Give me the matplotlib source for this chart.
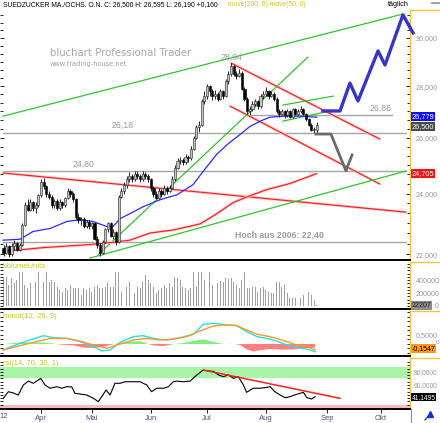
import numpy as np
import matplotlib
matplotlib.use("Agg")
import matplotlib.pyplot as plt
from matplotlib.ticker import FixedLocator, NullFormatter
from matplotlib.lines import Line2D

plt.rcParams['font.family'] = ['Liberation Sans', 'DejaVu Sans']

# bar index 0 = first trading day of April 2012
bar_idx = np.arange(-14, 104)
opens = [22.20, 22.05, 22.25, 22.00, 22.25, 22.35, 22.15, 22.30, 22.95, 23.60, 23.45, 23.70, 23.50, 23.60,
         23.95, 24.40, 24.25, 24.00, 23.90, 23.60, 23.75, 23.50, 23.70, 23.60, 23.85, 24.10, 24.00, 23.80, 23.20, 23.10, 23.15, 22.90, 23.05, 22.90,
         23.00, 22.50, 22.30, 22.05, 22.40, 22.80, 23.00, 22.60, 22.70, 22.40, 23.90, 24.10, 24.30, 24.50, 24.60, 24.50, 24.70, 24.60, 24.50, 24.70, 24.60,
         24.50, 24.20, 24.00, 23.85, 24.10, 24.00, 24.20, 24.10, 24.20, 24.50, 24.90, 25.15, 25.20, 25.10, 25.30, 25.25, 25.60, 26.00, 26.40, 26.50, 27.40,
         27.60, 28.00, 27.80, 27.60, 27.70, 27.50, 27.80, 27.60, 28.20, 28.50, 28.80, 28.50, 28.40, 28.55, 27.90, 27.50, 27.00, 27.10, 27.30, 27.40, 27.20, 27.60,
         27.70, 27.80, 27.60, 27.70, 27.50, 27.00, 26.90, 27.00, 26.85, 27.00, 26.80, 27.10, 26.90, 27.00, 27.10, 26.90, 26.70, 26.50, 26.30, 26.30]
highs = [22.30, 22.35, 22.30, 22.35, 22.45, 22.40, 22.35, 23.00, 23.70, 23.80, 23.80, 23.75, 23.70, 24.00,
         24.50, 24.55, 24.30, 24.10, 23.95, 23.80, 23.80, 23.80, 23.75, 23.90, 24.20, 24.15, 24.05, 23.85, 23.35, 23.20, 23.20, 23.10, 23.10, 23.05,
         23.00, 22.60, 22.35, 22.45, 22.85, 23.05, 23.05, 22.80, 22.75, 23.95, 24.20, 24.40, 24.60, 24.75, 24.70, 24.80, 24.80, 24.70, 24.80, 24.75, 24.70,
         24.55, 24.25, 24.10, 24.20, 24.15, 24.30, 24.25, 24.30, 24.60, 25.00, 25.25, 25.30, 25.25, 25.40, 25.35, 25.70, 26.05, 26.50, 26.65, 27.50, 27.80,
         28.10, 28.05, 27.90, 27.85, 27.75, 27.90, 27.85, 28.30, 28.60, 28.94, 28.85, 28.60, 28.70, 28.60, 27.95, 27.55, 27.20, 27.40, 27.50, 27.45, 27.70, 27.80,
         27.95, 27.85, 27.80, 27.75, 27.55, 27.10, 27.10, 27.05, 27.10, 27.05, 27.15, 27.15, 27.10, 27.20, 27.15, 26.95, 26.75, 26.55, 26.40, 26.595]
lows = [21.95, 22.00, 21.90, 21.95, 22.15, 22.10, 22.10, 22.25, 22.90, 23.40, 23.40, 23.40, 23.35, 23.55,
        23.90, 24.15, 23.90, 23.80, 23.50, 23.50, 23.45, 23.45, 23.50, 23.55, 23.80, 23.90, 23.70, 23.15, 23.00, 22.95, 22.85, 22.85, 22.80, 22.80,
        22.45, 22.20, 21.95, 22.00, 22.35, 22.70, 22.55, 22.50, 22.30, 22.35, 23.85, 24.00, 24.20, 24.40, 24.40, 24.45, 24.50, 24.40, 24.45, 24.50, 24.40,
        24.10, 23.90, 23.80, 23.80, 23.90, 23.95, 24.00, 24.05, 24.15, 24.45, 24.85, 25.05, 25.00, 25.05, 25.10, 25.20, 25.55, 25.95, 26.20, 26.45, 27.30,
        27.50, 27.60, 27.45, 27.50, 27.40, 27.45, 27.50, 27.55, 28.10, 28.40, 28.40, 28.30, 28.35, 27.85, 27.40, 26.90, 26.88, 27.00, 27.20, 27.10, 27.15, 27.50,
        27.60, 27.50, 27.55, 27.40, 26.95, 26.80, 26.85, 26.75, 26.80, 26.75, 26.75, 26.85, 26.85, 26.95, 26.85, 26.65, 26.45, 26.25, 26.19, 26.19]
closes = [22.05, 22.25, 22.00, 22.25, 22.35, 22.15, 22.30, 22.95, 23.60, 23.45, 23.70, 23.50, 23.60, 23.95,
          24.40, 24.25, 24.00, 23.90, 23.60, 23.75, 23.50, 23.70, 23.60, 23.85, 24.10, 24.00, 23.80, 23.20, 23.10, 23.15, 22.90, 23.05, 22.90, 23.00,
          22.50, 22.30, 22.05, 22.40, 22.80, 23.00, 22.60, 22.70, 22.40, 23.90, 24.10, 24.30, 24.50, 24.60, 24.50, 24.70, 24.60, 24.50, 24.70, 24.60, 24.50,
          24.20, 24.00, 23.85, 24.10, 24.00, 24.20, 24.10, 24.20, 24.50, 24.90, 25.15, 25.20, 25.10, 25.30, 25.25, 25.60, 26.00, 26.40, 26.50, 27.40, 27.60,
          28.00, 27.80, 27.60, 27.70, 27.50, 27.80, 27.60, 28.20, 28.50, 28.80, 28.50, 28.40, 28.55, 27.90, 27.50, 27.00, 27.10, 27.30, 27.40, 27.20, 27.60, 27.70,
          27.80, 27.60, 27.70, 27.50, 27.00, 26.90, 27.00, 26.85, 27.00, 26.80, 27.10, 26.90, 27.00, 27.10, 26.90, 26.70, 26.50, 26.30, 26.34, 26.50]
volume_k = [426, 451, 323, 426, 349, 400, 528, 528, 323, 272, 349, 451, 374, 528,
            503, 374, 528, 374, 400, 374, 297, 246, 221, 272, 246, 323, 272, 272, 272, 169, 272, 246, 272, 221,
            297, 323, 272, 272, 297, 349, 297, 297, 528, 528, 221, 272, 297, 374, 272, 195, 297, 272, 374, 477, 400,
            349, 297, 195, 246, 272, 323, 272, 349, 297, 451, 426, 400, 297, 272, 246, 272, 528, 297, 528, 528, 400,
            426, 528, 323, 349, 349, 385, 374, 426, 415, 436, 374, 323, 272, 400, 528, 272, 282, 297, 297, 221, 272, 297,
            246, 221, 195, 195, 374, 374, 297, 323, 195, 118, 118, 118, 169, 118, 169, 179, 221, 169, 92, 22]

# moving averages
ma50_x = [-14.2, -7.8, -3.0, 3.4, 9.7, 14.6, 19.4, 24.7, 26.9, 29.5, 33.2, 38.1, 44.5, 50.8, 56.8, 60.5, 65.7, 69.9, 74.3, 78.1, 82.6, 85.5, 91.1, 96.7, 103]
ma50_y = [22.45, 22.48, 22.73, 22.83, 23.06, 23.12, 23.06, 22.89, 22.89, 23.15, 23.32, 23.55, 23.79, 23.96, 24.31, 24.77, 25.40, 25.78, 26.12, 26.43, 26.66, 26.78, 26.82, 26.82, 26.78]
ma200_x = [-14.2, 0.7, 18.3, 26.9, 33.2, 40.7, 49.3, 54.5, 59.4, 65.0, 71.7, 78.1, 84.4, 93.0, 103]
ma200_y = [22.09, 22.21, 22.31, 22.38, 22.45, 22.68, 22.78, 22.88, 22.98, 23.28, 23.69, 23.93, 24.14, 24.35, 24.70]

# drawn trend lines (start/end)
green_lines = [((-14.2, 135.2), (26.82, 31.05)),
               ((18.3, 136.3), (21.88, 24.79)),
               ((21.3, 99.7), (21.98, 29.19)),
               ((90.4, 109.1), (27.25, 27.60)),
               ((90.4, 106.1), (26.63, 26.98))]
red_lines = [((-14.2, 136.3), (24.72, 23.37)),
             ((71.0, 126.6), (28.94, 25.95)),
             ((70.6, 126.6), (27.21, 24.33))]
levels = [26.18, 24.80, 22.40]
level_26_86 = ((77.0, 131.1), 26.86)

fc_blue_x = [105.3, 111.7, 115.4, 118.4, 125.9, 128.5, 135.2, 139.0]
fc_blue_y = [27.02, 27.02, 28.12, 27.41, 29.45, 28.86, 31.01, 30.22]
fc_gray_x = [102.7, 108.3, 113.9, 116.2]
fc_gray_y = [26.14, 26.14, 24.80, 25.37]

# MACD
macd_x = [-14.1, -7.8, -2.9, 0.9, 4.6, 9.6, 14.6, 19.6, 22.7, 25.8, 29.5, 34.5, 38.2, 42.0, 46.9, 51.9, 56.9, 60.6, 64.4, 69.4, 73.1, 76.8, 80.6, 84.3, 88.0, 91.8, 95.5, 99.3, 102.4]
macd_y = [-0.33, 0.04, 0.28, 0.46, 0.35, 0.31, 0.13, -0.15, -0.39, -0.33, 0.09, 0.41, 0.46, 0.31, 0.22, 0.35, 0.53, 1.09, 1.15, 1.06, 1.02, 0.69, 0.41, 0.31, 0.16, -0.06, -0.20, -0.28, -0.43]
sig_x = [-14.1, -7.8, -2.9, 3.4, 9.6, 14.6, 19.6, 24.5, 28.3, 34.5, 39.5, 44.4, 49.4, 54.4, 59.4, 64.4, 69.4, 73.1, 76.8, 80.6, 84.3, 88.0, 91.8, 95.5, 99.3, 102.4]
sig_y = [-0.33, -0.09, 0.09, 0.31, 0.31, 0.16, -0.06, -0.24, -0.06, 0.22, 0.31, 0.22, 0.26, 0.41, 0.72, 1.00, 1.06, 1.02, 0.78, 0.54, 0.44, 0.31, 0.13, -0.06, -0.15, -0.33]
hist_x = [-13.4, -11.6, -7.8, -2.9, 0.9, 4.6, 5.9, 7.1, 12.1, 15.8, 19.6, 23.3, 26.4, 27.6, 29.5, 33.2, 37.0, 39.5, 40.1, 42.0, 45.7, 48.8, 50.1,
          53.2, 58.2, 60.6, 64.4, 67.5, 68.7, 70.6, 72.5, 74.3, 76.8, 79.3, 81.8, 85.6, 90.5, 94.3, 98.0, 102.4]
hist_y = [0.0, 0.03, 0.08, 0.09, 0.08, 0.02, 0.0, -0.03, -0.08, -0.20, -0.22, -0.15, -0.03, 0.0, 0.05, 0.14, 0.15, 0.03, 0.0, -0.08, -0.12, -0.02, 0.0,
          0.06, 0.20, 0.25, 0.12, 0.02, 0.0, 0.01, 0.0, -0.05, -0.30, -0.42, -0.35, -0.28, -0.32, -0.30, -0.25, -0.20]

# RSI
rsi_x = [-14.1, -12.2, -10.3, -8.5, -6.6, -4.7, -2.9, -1.6, -0.1, 1.5, 3.4, 5.9, 7.7, 9.6, 11.5, 12.7, 15.2, 17.1, 19.6, 21.4, 22.7, 24.3, 25.8, 27.6,
         29.5, 31.4, 34.5, 37.0, 39.5, 41.3, 43.2, 45.7, 47.6, 49.4, 50.7, 53.2, 55.7, 58.2, 60.6, 62.5, 64.4, 66.3, 68.1, 70.0, 71.9, 73.7, 75.6,
         76.8, 79.3, 81.8, 83.7, 85.6, 87.4, 89.3, 91.2, 93.0, 95.5, 98.0, 99.3, 101.1, 102.4]
rsi_y = [39.5, 49.7, 47.7, 44.6, 60.0, 66.0, 62.6, 66.0, 70.2, 60.0, 54.9, 57.4, 55.0, 57.4, 57.0, 47.2, 45.7, 44.6, 39.5, 34.4, 42.0, 52.3, 44.6, 62.6,
         62.6, 65.0, 65.0, 65.0, 60.0, 49.7, 55.0, 55.0, 57.4, 65.0, 66.0, 65.0, 66.0, 75.4, 83.0, 81.5, 81.0, 75.4, 72.8, 75.4, 70.2, 72.8, 60.0,
         48.7, 55.0, 55.0, 56.0, 57.4, 49.7, 44.6, 40.5, 42.0, 45.7, 48.7, 40.5, 38.5, 42.0]
rsi_trend = ((60.6, 111.7), (83.0, 39.5))

month_pos = [0, 19, 41, 62, 84, 107, 127]
month_lbl = ['Apr', 'Mai', 'Jun', 'Jul', 'Aug', 'Sep', 'Okt']

W, H = 440, 423
fig = plt.figure(figsize=(W / 100, H / 100), dpi=100)
XL = (-15.32, 137.84)
yellow = '#f2c440'
gray_txt = '#9a9a9a'


def panel(top, bottom):
    a = fig.add_axes([0, 1 - bottom / H, 410 / W, (bottom - top) / H])
    a.set_xlim(*XL)
    for s in ('top', 'left'):
        a.spines[s].set_visible(False)
    a.spines['bottom'].set_color('black')
    a.spines['bottom'].set_linewidth(1.4)
    a.spines['right'].set_color(yellow)
    a.spines['right'].set_linewidth(1.0)
    a.yaxis.tick_right()
    a.tick_params(axis='y', which='both', left=True, right=True, direction='in', colors='black',
                  labelcolor=gray_txt, labelsize=5.2, pad=4, length=2, width=0.6)
    a.set_xticks([])
    fig.add_artist(Line2D([411 / W, 1], [1 - top / H] * 2, color=yellow, lw=1.0))
    return a


def redline(a, xs, ys, **kw):
    a.plot(xs, ys, color='#ffc4c4', lw=1.9, solid_capstyle='butt', **kw)
    a.plot(xs, ys, color='#ff1a1a', lw=0.8, **kw)


# ---------------- main price panel
ax = panel(10, 260)
ax.set_yscale('log')
ax.set_ylim(21.82, 31.23)
ax.yaxis.set_major_locator(FixedLocator([22, 24, 26, 28, 30]))
ax.yaxis.set_minor_locator(FixedLocator(np.arange(21.0, 32.0, 1 / 3)))
ax.yaxis.set_minor_formatter(NullFormatter())
ax.set_yticklabels(['22,000', '24,000', '26,000', '28,000', '30,000'])
ax.tick_params(axis='y', which='major', length=3)

ax.text(0.122, 0.828, 'bluchart Professional Trader', transform=ax.transAxes, color='#a8a8a8',
        fontsize=7.3, family='DejaVu Sans', va='center')
ax.text(0.122, 0.784, 'www.trading-house.net', transform=ax.transAxes, color='#a0a0a0',
        fontsize=4.8, family='DejaVu Sans', va='center')

for lv in levels:
    ax.plot(XL[0] + np.array([1.2, 151.6]), [lv, lv], color='#a6a6a6', lw=1.0)
ax.plot(level_26_86[0], [level_26_86[1]] * 2, color='#a6a6a6', lw=1.0)
ax.text(127, 27.13, '26,86', color=gray_txt, fontsize=6.3, ha='center', va='center')
ax.text(30.6, 26.48, '26,18', color=gray_txt, fontsize=6.3, ha='center', va='center')
ax.text(16.0, 25.04, '24,80', color=gray_txt, fontsize=6.3, ha='center', va='center')
ax.text(71.0, 29.19, '28,94', color=gray_txt, fontsize=6.3, ha='center', va='center')
ax.text(89.0, 22.61, 'Hoch aus 2006: 22,40', color=gray_txt, fontsize=6.3, fontweight='bold',
        ha='center', va='center')

for xs, ys in red_lines:
    redline(ax, xs, ys)
for xs, ys in green_lines:
    ax.plot(xs, ys, color='#2ec52e', lw=0.9)

redline(ax, ma200_x, ma200_y)
ax.plot(ma50_x, ma50_y, color='#2a2aff', lw=0.9)

o = np.array(opens); c = np.array(closes)
up = c >= o
ax.vlines(bar_idx, lows, highs, color='black', lw=0.6, zorder=3)
body_lo = np.minimum(o, c)
body_h = np.maximum(np.abs(c - o), 0.02)
ax.bar(bar_idx[up], body_h[up], bottom=body_lo[up], width=0.8, color='#c4c4c4',
       edgecolor='#202020', lw=0.4, zorder=4)
ax.bar(bar_idx[~up], body_h[~up], bottom=body_lo[~up], width=0.8, color='black',
       edgecolor='black', lw=0.4, zorder=4)

ax.plot(fc_blue_x, fc_blue_y, color='#3535c8', lw=2.4, clip_on=False, zorder=5)
ax.plot(fc_gray_x, fc_gray_y, color='#6a6a6a', lw=2.0, zorder=5)

ytr = ax.get_yaxis_transform()
ax.text(1.004, 26.81, '26,779', transform=ytr, color='white', fontsize=5.3, va='center',
        bbox=dict(boxstyle='square,pad=0.12', fc='#1010ff', ec='none'), zorder=6)
ax.text(1.004, 26.43, '26,500', transform=ytr, color='white', fontsize=5.3, va='center',
        bbox=dict(boxstyle='square,pad=0.12', fc='#4a4a4a', ec='none'), zorder=6)
ax.text(1.004, 24.71, '24,705', transform=ytr, color='white', fontsize=5.3, va='center',
        bbox=dict(boxstyle='square,pad=0.12', fc='#ff1010', ec='none'), zorder=6)

# ---------------- volume
axv = panel(262, 309)
axv.set_ylim(-46, 677)
axv.bar(bar_idx, volume_k, width=0.35, color='#a0a0a0', lw=0)
axv.yaxis.set_major_locator(FixedLocator([200, 400]))
axv.yaxis.set_minor_locator(FixedLocator(np.arange(0, 700, 50)))
axv.yaxis.set_minor_formatter(NullFormatter())
axv.set_yticklabels(['200000', '400000'])
axv.text(0.008, 0.9, 'VolumeUnits', transform=axv.transAxes, color='#c8c820', fontsize=5.5, va='center')
axv.text(1.004, 6, '22207', transform=axv.get_yaxis_transform(), color='#202020', fontsize=5.0,
         va='center', bbox=dict(boxstyle='square,pad=0.1', fc='#8c8c8c', ec='none'))
fig.text(435 / W, 1 - 306 / H, '0', color=gray_txt, fontsize=5.0, va='center')

# ---------------- macd
axm = panel(311, 356)
axm.set_ylim(-0.667, 1.83)
axm.fill_between(hist_x, hist_y, 0, where=np.array(hist_y) >= 0, color='#7cf07c', lw=0, interpolate=True)
axm.fill_between(hist_x, hist_y, 0, where=np.array(hist_y) <= 0, color='#ff8080', lw=0, interpolate=True)
axm.plot(macd_x, macd_y, color='#20e0f0', lw=1.0)
axm.plot(sig_x, sig_y, color='#ff9a20', lw=1.0)
axm.yaxis.set_major_locator(FixedLocator([0.5]))
axm.yaxis.set_minor_locator(FixedLocator(np.arange(-0.5, 1.8, 0.25)))
axm.yaxis.set_minor_formatter(NullFormatter())
axm.set_yticklabels(['0,5000'])
axm.text(0.008, 0.87, 'macd(12, 26, 9)', transform=axm.transAxes, color='#c8c820', fontsize=5.5, va='center')
axm.text(1.004, -0.25, '-0,1547', transform=axm.get_yaxis_transform(), color='black', fontsize=5.0,
         va='center', bbox=dict(boxstyle='square,pad=0.1', fc='#ff9a10', ec='none'))
fig.text(436 / W, 1 - 342 / H, '0', color=gray_txt, fontsize=4.6, va='center')

# ---------------- rsi
axr = panel(358, 409)
axr.set_ylim(23.1, 101.5)
axr.axhspan(70, 87.5, color='#a8f5a8', lw=0)
axr.axhspan(23.1, 30, color='#ffb8b8', lw=0)
axr.plot(rsi_x, rsi_y, color='black', lw=0.8)
axr.plot(rsi_trend[0], rsi_trend[1], color='#ff2020', lw=1.1)
axr.yaxis.set_major_locator(FixedLocator([60, 80]))
axr.yaxis.set_minor_locator(FixedLocator(np.arange(25, 100, 5)))
axr.yaxis.set_minor_formatter(NullFormatter())
axr.set_yticklabels(['60,0000', '80,0000'])
axr.tick_params(axis='y', which='major', labelsize=4.8, pad=2.5)
axr.text(0.008, 0.9, 'rsi(14, 70, 30, 1)', transform=axr.transAxes, color='#c8c820', fontsize=5.5, va='center')
axr.text(1.004, 41.15, '41,1495', transform=axr.get_yaxis_transform(), color='white', fontsize=4.8,
         va='center', bbox=dict(boxstyle='square,pad=0.1', fc='black', ec='none'))
axr.set_xticks(month_pos)
axr.set_xticklabels(month_lbl)
axr.tick_params(axis='x', direction='out', length=3, width=0.6, labelsize=5.5, labelcolor='#505070', pad=1.5)
fig.text(4 / W, 1 - 416 / H, '12', color='#505070', fontsize=5.5, ha='center', va='center')
fig.add_artist(Line2D([411 / W] * 2, [0, 1 - 409 / H], color='#909090', lw=0.8))
fig.add_artist(Line2D([425 / W, 431 / W], [1 - 420 / H, 1 - 413 / H], color='#202020', lw=0.8))
fig.add_artist(Line2D([430 / W], [1 - 414 / H], marker='^', color='#1030d0', ms=4))

# ---------------- header
fig.text(3 / W, 1 - 5 / H, 'SUEDZUCKER MA./OCHS. O.N. C: 26,500 H: 26,595 L: 26,190 +0,160',
         fontsize=4.9, color='black', va='center')
fig.text(228 / W, 1 - 5 / H, 'move(200, 0) move(50, 0)', fontsize=4.9, color='#c8c820', va='center')
fig.text(388 / W, 1 - 5 / H, 'täglich', fontsize=5.2, color='black', va='center')
fig.add_artist(Line2D([432 / W, 1], [1 - 3 / H] * 2, color='#909090', lw=1.2))

fig.savefig('out.png', dpi=100)
